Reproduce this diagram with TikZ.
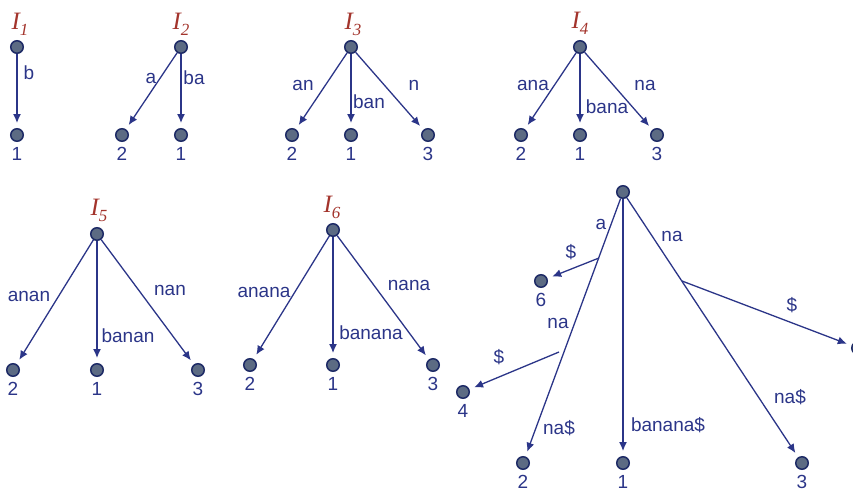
\documentclass[tikz,border=0pt]{standalone}
\usepackage{fontspec}
\setmainfont{Liberation Sans}
\newfontfamily\titlefont{Liberation Serif}
\usetikzlibrary{arrows.meta}

\definecolor{edgeblue}{HTML}{2B3588}
\definecolor{nodefill}{HTML}{5C6B83}
\definecolor{nodeline}{HTML}{1E2B66}
\definecolor{titlered}{HTML}{A3342C}

\newcommand{\treetitle}[1]{I\raisebox{-6pt}{\fontsize{17}{17}\selectfont #1}}

\tikzset{
  vtx/.style={circle,draw=nodeline,fill=nodefill,line width=1.5pt,
              minimum size=12.5pt,inner sep=0pt},
  lbl/.style={text=edgeblue,font=\fontsize{19}{19}\selectfont,inner sep=0pt},
  num/.style={label={[lbl,label distance=5pt]below:#1}},
  edge/.style={draw=edgeblue,line width=1.3pt,
               -{Latex[length=9pt,width=8pt]},shorten >=5pt},
  ttl/.style={text=titlered,font=\titlefont\itshape\fontsize{25}{25}\selectfont,
              inner sep=0pt}
}

\begin{document}
\begin{tikzpicture}[x=1pt,y=-1pt]
\useasboundingbox (0,0) rectangle (853,488);

% ---- I1 ----
\node[ttl] (t1) at (20,24) {\treetitle{1}};
\node[vtx] (r1) at (17,47) {};
\node[vtx,num=1] (r1a) at (17,135) {};
\draw[edge] (r1) -- (r1a);
\node[lbl] (e1a) at (29,73) {b};

% ---- I2 ----
\node[ttl] (t2) at (181,24) {\treetitle{2}};
\node[vtx] (r2) at (181,47) {};
\node[vtx,num=2] (r2b) at (122,135) {};
\node[vtx,num=1] (r2a) at (181,135) {};
\draw[edge] (r2) -- (r2b);
\draw[edge] (r2) -- (r2a);
\node[lbl] (e2b) at (151,78) {a};
\node[lbl] (e2a) at (194,78) {ba};

% ---- I3 ----
\node[ttl] (t3) at (353,24) {\treetitle{3}};
\node[vtx] (r3) at (351,47) {};
\node[vtx,num=2] (r3b) at (292,135) {};
\node[vtx,num=1] (r3a) at (351,135) {};
\node[vtx,num=3] (r3c) at (428,135) {};
\draw[edge] (r3) -- (r3b);
\draw[edge] (r3) -- (r3a);
\draw[edge] (r3) -- (r3c);
\node[lbl] (e3b) at (303,85) {an};
\node[lbl] (e3a) at (369,102) {ban};
\node[lbl] (e3c) at (414,85) {n};

% ---- I4 ----
\node[ttl] (t4) at (580,23) {\treetitle{4}};
\node[vtx] (r4) at (580,47) {};
\node[vtx,num=2] (r4b) at (521,135) {};
\node[vtx,num=1] (r4a) at (580,135) {};
\node[vtx,num=3] (r4c) at (657,135) {};
\draw[edge] (r4) -- (r4b);
\draw[edge] (r4) -- (r4a);
\draw[edge] (r4) -- (r4c);
\node[lbl] (e4b) at (533,85) {ana};
\node[lbl] (e4a) at (607,107) {bana};
\node[lbl] (e4c) at (645,85) {na};

% ---- I5 ----
\node[ttl] (t5) at (99,210) {\treetitle{5}};
\node[vtx] (r5) at (97,234) {};
\node[vtx,num=2] (r5b) at (13,370) {};
\node[vtx,num=1] (r5a) at (97,370) {};
\node[vtx,num=3] (r5c) at (198,370) {};
\draw[edge] (r5) -- (r5b);
\draw[edge] (r5) -- (r5a);
\draw[edge] (r5) -- (r5c);
\node[lbl] (e5b) at (29,296) {anan};
\node[lbl] (e5a) at (128,336) {banan};
\node[lbl] (e5c) at (170,290) {nan};

% ---- I6 ----
\node[ttl] (t6) at (332,207) {\treetitle{6}};
\node[vtx] (r6) at (333,230) {};
\node[vtx,num=2] (r6b) at (250,365) {};
\node[vtx,num=1] (r6a) at (333,365) {};
\node[vtx,num=3] (r6c) at (433,365) {};
\draw[edge] (r6) -- (r6b);
\draw[edge] (r6) -- (r6a);
\draw[edge] (r6) -- (r6c);
\node[lbl] (e6b) at (264,292) {anana};
\node[lbl] (e6a) at (371,333) {banana};
\node[lbl] (e6c) at (409,285) {nana};

% ---- final suffix tree ----
\node[vtx] (r7) at (623,192) {};
\node[vtx,num=2] (s2) at (523,463) {};
\node[vtx,num=1] (s1) at (623,463) {};
\node[vtx,num=3] (s3) at (802,463) {};
\node[vtx,num=6] (s6) at (541,281) {};
\node[vtx,num=4] (s4) at (463,392) {};
\node[vtx,num=5] (s5) at (858,348) {};
\coordinate (b6) at (599,258);
\coordinate (b4) at (559,352);
\coordinate (b5) at (682,281);
\draw[edge] (r7) -- (s2);
\draw[edge] (r7) -- (s1);
\draw[edge] (r7) -- (s3);
\draw[edge] (b6) -- (s6);
\draw[edge] (b4) -- (s4);
\draw[edge] (b5) -- (s5);
\node[lbl] (ua) at (601,224) {a};
\node[lbl] (u6) at (571,252) {\$};
\node[lbl] (una) at (672,236) {na};
\node[lbl] (u5) at (792,305) {\$};
\node[lbl] (una2) at (558,323) {na};
\node[lbl] (u4) at (499,357) {\$};
\node[lbl] (u2) at (559,428) {na\$};
\node[lbl] (u1) at (668,425) {banana\$};
\node[lbl] (u3) at (790,397) {na\$};
\end{tikzpicture}
\end{document}
